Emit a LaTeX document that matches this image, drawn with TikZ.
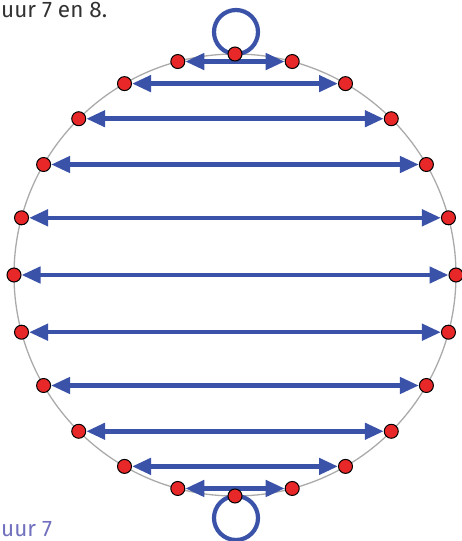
\documentclass[tikz,border=0pt]{standalone}
\usepackage{fontspec}
\setmainfont{Fira Sans}
\usetikzlibrary{arrows.meta,calc}
\definecolor{arrblue}{RGB}{58,82,168}
\definecolor{dotred}{RGB}{232,40,40}
\definecolor{ringgray}{RGB}{170,170,170}
\definecolor{captxt}{RGB}{112,112,190}
\definecolor{toptxt}{RGB}{50,50,50}
\tikzset{
  dotnode/.style={circle,fill=dotred,draw=black,line width=1pt,minimum size=14pt,inner sep=0pt},
  chord/.style={arrblue,line width=4.5pt,{Triangle[length=19pt,width=16pt]}-{Triangle[length=19pt,width=16pt]}},
  loopline/.style={arrblue,line width=4.2pt},
}
\begin{document}
\begin{tikzpicture}[x=1pt,y=-1pt]
\useasboundingbox (0,0) rectangle (462,541);
\clip (0,0) rectangle (462,541);
\node[anchor=base west,inner sep=0pt,text=toptxt,font=\fontsize{22.5}{26}\selectfont] (tt) at (1,17) {uur 7 en 8.};
\node[anchor=base west,inner sep=0pt,text=captxt,font=\fontsize{22.5}{26}\selectfont] (bt) at (1,536) {uur 7};
\coordinate (c) at (235,275);
\draw[ringgray,line width=1.3pt] (c) circle[radius=221];
% loops
\draw[loopline] (236,32) circle[radius=22];
\draw[loopline] (236,518) circle[radius=22];
% dots
\foreach \a in {0,15,...,75,105,120,...,255,285,300,...,345}{
  \node[dotnode] (p\a) at ($(c)+(\a:221 and -221)$) {};
}
\foreach \a/\b in {75/105,60/120,45/135,30/150,15/165,0/180,345/195,330/210,315/225,300/240,285/255}{
  \draw[chord] (p\a) -- (p\b);
}
\node[dotnode] (p90) at ($(c)+(90:221 and -221)$) {};
\node[dotnode] (p270) at ($(c)+(270:221 and -221)$) {};
\end{tikzpicture}
\end{document}
